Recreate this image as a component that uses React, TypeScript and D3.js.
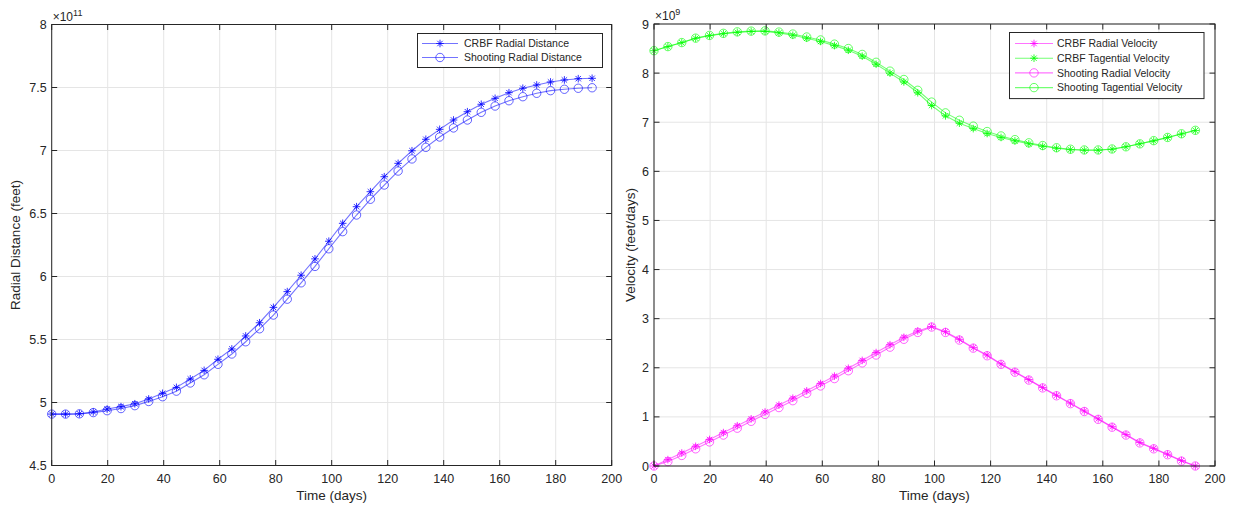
import React from "react";
import * as d3 from "d3";

const days = [0, 4.95, 9.9, 14.85, 19.79, 24.74, 29.69, 34.64, 39.59, 44.54, 49.49, 54.44, 59.38, 64.33, 69.28, 74.23, 79.18, 84.13, 89.08, 94.03, 98.97, 103.92, 108.87, 113.82, 118.77, 123.72, 128.67, 133.62, 138.56, 143.51, 148.46, 153.41, 158.36, 163.31, 168.26, 173.21, 178.15, 183.1, 188.05, 193.0];

const crbfRadialDistance = [4.908, 4.908, 4.911, 4.925, 4.948, 4.967, 4.99, 5.028, 5.073, 5.12, 5.187, 5.255, 5.343, 5.425, 5.528, 5.633, 5.755, 5.88, 6.01, 6.14, 6.28, 6.422, 6.554, 6.673, 6.792, 6.898, 6.998, 7.089, 7.168, 7.242, 7.308, 7.367, 7.414, 7.459, 7.494, 7.52, 7.544, 7.56, 7.57, 7.573];
const shootingRadialDistance = [4.908, 4.908, 4.91, 4.92, 4.935, 4.952, 4.975, 5.008, 5.046, 5.09, 5.155, 5.22, 5.303, 5.385, 5.482, 5.585, 5.694, 5.82, 5.95, 6.08, 6.22, 6.356, 6.488, 6.613, 6.726, 6.837, 6.933, 7.025, 7.107, 7.179, 7.242, 7.303, 7.353, 7.395, 7.427, 7.454, 7.475, 7.486, 7.494, 7.498];

const crbfRadialVelocity = [0, 0.13, 0.265, 0.4, 0.54, 0.68, 0.82, 0.96, 1.1, 1.24, 1.38, 1.53, 1.68, 1.83, 1.99, 2.15, 2.31, 2.47, 2.62, 2.75, 2.84, 2.735, 2.58, 2.41, 2.26, 2.08, 1.92, 1.76, 1.6, 1.44, 1.28, 1.12, 0.96, 0.8, 0.64, 0.48, 0.36, 0.24, 0.11, 0];
const crbfTangentialVelocity = [8.457, 8.54, 8.62, 8.709, 8.762, 8.803, 8.83, 8.848, 8.85, 8.82, 8.77, 8.71, 8.645, 8.56, 8.465, 8.345, 8.18, 8.0, 7.82, 7.6, 7.34, 7.13, 6.98, 6.87, 6.77, 6.69, 6.62, 6.56, 6.51, 6.47, 6.44, 6.43, 6.43, 6.45, 6.5, 6.56, 6.62, 6.69, 6.76, 6.83];
const shootingRadialVelocity = [0, 0.09, 0.215, 0.35, 0.49, 0.63, 0.77, 0.91, 1.05, 1.19, 1.33, 1.48, 1.63, 1.78, 1.94, 2.1, 2.26, 2.42, 2.58, 2.72, 2.83, 2.72, 2.565, 2.4, 2.245, 2.07, 1.91, 1.75, 1.59, 1.43, 1.27, 1.11, 0.95, 0.79, 0.63, 0.47, 0.35, 0.23, 0.1, 0];
const shootingTangentialVelocity = [8.457, 8.54, 8.622, 8.712, 8.768, 8.81, 8.84, 8.855, 8.86, 8.835, 8.795, 8.735, 8.675, 8.59, 8.5, 8.38, 8.22, 8.04, 7.87, 7.65, 7.41, 7.19, 7.04, 6.92, 6.81, 6.72, 6.645, 6.58, 6.525, 6.48, 6.45, 6.435, 6.435, 6.455, 6.5, 6.56, 6.625, 6.69, 6.765, 6.835];

const xTicks = [0, 20, 40, 60, 80, 100, 120, 140, 160, 180, 200];
const leftYTicks = [4.5, 5, 5.5, 6, 6.5, 7, 7.5, 8];
const rightYTicks = [0, 1, 2, 3, 4, 5, 6, 7, 8, 9];

const FONT = "'Liberation Sans', Arial, Helvetica, sans-serif";
const AXIS = "#262626";
const GRID = "#e5e5e5";

type Series = { label: string; values: number[]; color: string; marker: "star" | "circle" };

const starPath = "M-3.8,0H3.8M0,-3.8V3.8M-2.7,-2.7L2.7,2.7M-2.7,2.7L2.7,-2.7";

function Marker({ kind, x, y, color }: { kind: string; x: number; y: number; color: string }) {
  if (kind === "star") {
    return <path d={starPath} transform={`translate(${x},${y})`} stroke={color} strokeOpacity={0.8} strokeWidth={1} fill="none" />;
  }
  return <circle cx={x} cy={y} r={4.2} stroke={color} strokeOpacity={0.6} strokeWidth={1} fill="none" />;
}

function Panel(props: {
  left: number; right: number; top: number; bottom: number;
  yDomain: [number, number]; yTicks: number[]; exponent: string; yLabel: string;
  yLabelX: number; series: Series[];
  legend: { x0: number; y0: number; x1: number; rowY: number[]; lineX0: number; lineX1: number; textX: number };
}) {
  const { left, right, top, bottom, yDomain, yTicks, exponent, yLabel, yLabelX, series, legend } = props;
  const x = d3.scaleLinear().domain([0, 200]).range([left, right]);
  const y = d3.scaleLinear().domain(yDomain).range([bottom, top]);
  const line = d3.line<number>().x((_, i) => x(days[i])).y((v) => y(v));
  const tl = 5.5;
  return (
    <g>
      {xTicks.map((t) => (
        <line key={"gx" + t} x1={x(t)} x2={x(t)} y1={top} y2={bottom} stroke={GRID} strokeWidth={1} />
      ))}
      {yTicks.map((t) => (
        <line key={"gy" + t} x1={left} x2={right} y1={y(t)} y2={y(t)} stroke={GRID} strokeWidth={1} />
      ))}
      {series.map((s) => (
        <g key={s.label}>
          <path d={line(s.values) || ""} fill="none" stroke={s.color} strokeOpacity={0.55} strokeWidth={1.1} />
          {s.values.map((v, i) => (
            <Marker key={i} kind={s.marker} x={x(days[i])} y={y(v)} color={s.color} />
          ))}
        </g>
      ))}
      <rect x={left} y={top} width={right - left} height={bottom - top} fill="none" stroke={AXIS} strokeWidth={1} />
      {xTicks.map((t) => (
        <g key={"tx" + t}>
          <line x1={x(t)} x2={x(t)} y1={bottom} y2={bottom - tl} stroke={AXIS} />
          <line x1={x(t)} x2={x(t)} y1={top} y2={top + tl} stroke={AXIS} />
          <text x={x(t)} y={bottom + 17} textAnchor="middle" fontSize={12.5} fill={AXIS} fontFamily={FONT}>{t}</text>
        </g>
      ))}
      {yTicks.map((t) => (
        <g key={"ty" + t}>
          <line x1={left} x2={left + tl} y1={y(t)} y2={y(t)} stroke={AXIS} />
          <line x1={right} x2={right - tl} y1={y(t)} y2={y(t)} stroke={AXIS} />
          <text x={left - 5} y={y(t) + 4.5} textAnchor="end" fontSize={12.5} fill={AXIS} fontFamily={FONT}>{t}</text>
        </g>
      ))}
      <text x={left + 1} y={top - 4} fontSize={12} fill={AXIS} fontFamily={FONT}>
        ×10<tspan dy={-5} fontSize={9}>{exponent}</tspan>
      </text>
      <text x={(left + right) / 2} y={bottom + 34} textAnchor="middle" fontSize={13.5} fill={AXIS} fontFamily={FONT}>Time (days)</text>
      <text transform={`translate(${yLabelX},${(top + bottom) / 2}) rotate(-90)`} textAnchor="middle" fontSize={13.5} fill={AXIS} fontFamily={FONT}>{yLabel}</text>
      <rect x={legend.x0} y={legend.y0} width={legend.x1 - legend.x0} height={legend.rowY[legend.rowY.length - 1] - legend.y0 + (legend.rowY[0] - legend.y0)} fill="white" stroke={AXIS} strokeWidth={1} />
      {series.map((s, i) => (
        <g key={"lg" + s.label}>
          <line x1={legend.lineX0} x2={legend.lineX1} y1={legend.rowY[i]} y2={legend.rowY[i]} stroke={s.color} strokeOpacity={0.55} strokeWidth={1.1} />
          <Marker kind={s.marker} x={(legend.lineX0 + legend.lineX1) / 2} y={legend.rowY[i]} color={s.color} />
          <text x={legend.textX} y={legend.rowY[i] + 3.8} fontSize={10.5} fill={AXIS} fontFamily={FONT}>{s.label}</text>
        </g>
      ))}
    </g>
  );
}

export default function App() {
  const leftSeries: Series[] = [
    { label: "CRBF Radial Distance", values: crbfRadialDistance, color: "#0000ff", marker: "star" },
    { label: "Shooting Radial Distance", values: shootingRadialDistance, color: "#0000ff", marker: "circle" },
  ];
  const rightSeries: Series[] = [
    { label: "CRBF Radial Velocity", values: crbfRadialVelocity, color: "#ff00ff", marker: "star" },
    { label: "CRBF Tagential Velocity", values: crbfTangentialVelocity, color: "#00ff00", marker: "star" },
    { label: "Shooting Radial Velocity", values: shootingRadialVelocity, color: "#ff00ff", marker: "circle" },
    { label: "Shooting Tagential Velocity", values: shootingTangentialVelocity, color: "#00ff00", marker: "circle" },
  ];
  return (
    <svg width={1234} height={510} style={{ position: "absolute", left: 0, top: 0, background: "white" }}>
      <rect width={1234} height={510} fill="white" />
      <Panel left={51.7} right={611.7} top={24.5} bottom={465.5} yDomain={[4.5, 8]} yTicks={leftYTicks}
        exponent="11" yLabel="Radial Distance (feet)" yLabelX={20} series={leftSeries}
        legend={{ x0: 417.5, y0: 33.5, x1: 602.5, rowY: [43.5, 57.5], lineX0: 422, lineX1: 458, textX: 464 }} />
      <Panel left={654} right={1215} top={24} bottom={466} yDomain={[0, 9]} yTicks={rightYTicks}
        exponent="9" yLabel="Velocity (feet/days)" yLabelX={635} series={rightSeries}
        legend={{ x0: 1009.5, y0: 32.5, x1: 1204, rowY: [43.5, 58.2, 72.9, 87.6], lineX0: 1015, lineX1: 1053, textX: 1057 }} />
    </svg>
  );
}
